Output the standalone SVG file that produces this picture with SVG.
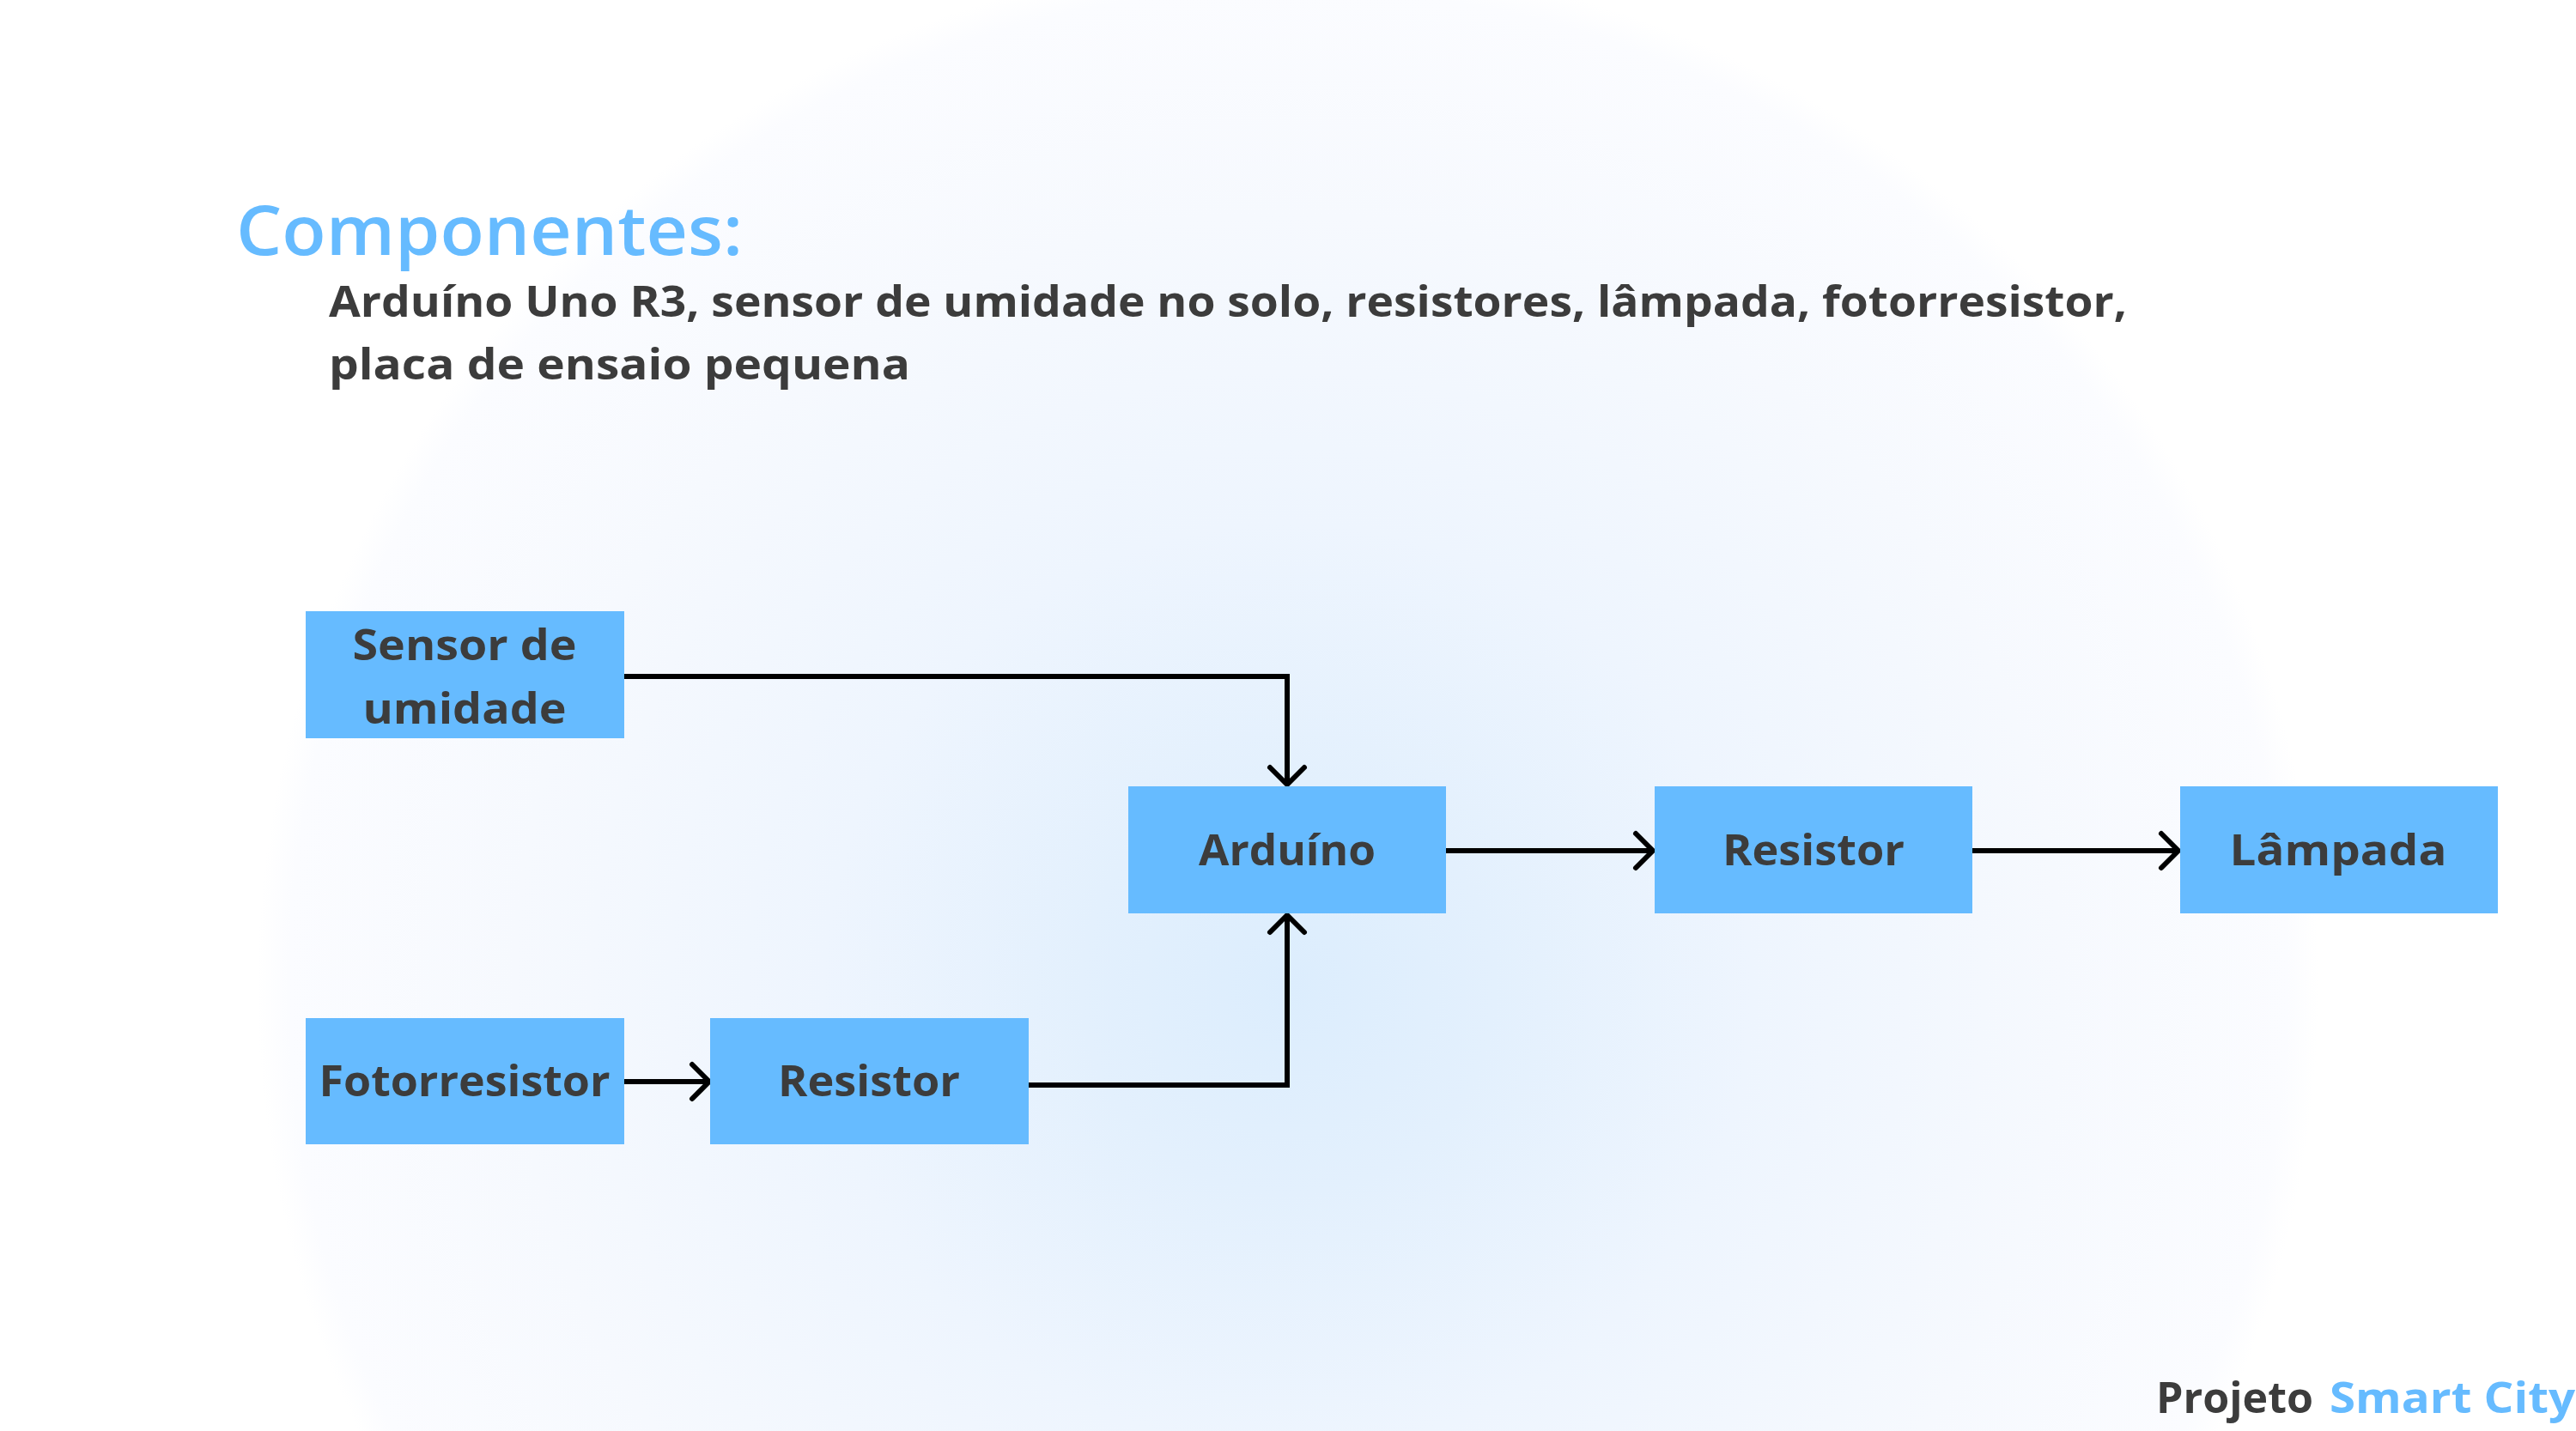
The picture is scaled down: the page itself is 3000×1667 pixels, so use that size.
<svg xmlns="http://www.w3.org/2000/svg" width="3000" height="1667" viewBox="0 0 3000 1667">
<defs>
<radialGradient id="bg" gradientUnits="userSpaceOnUse" cx="1500" cy="1150" r="1200">
<stop offset="0" stop-color="#DCEDFD"/>
<stop offset="0.2" stop-color="#E3F0FD"/>
<stop offset="0.45" stop-color="#EEF5FE"/>
<stop offset="0.75" stop-color="#F6F9FE"/>
<stop offset="0.97" stop-color="#FBFCFF"/>
<stop offset="1" stop-color="#FFFFFF"/>
</radialGradient>
<marker id="arr" markerUnits="userSpaceOnUse" orient="auto" viewBox="-30 -30 40 60" refX="0" refY="0" markerWidth="40" markerHeight="60">
<path d="M-20,-20 L0,0 L-20,20" fill="none" stroke="#000" stroke-width="6" stroke-linecap="round" stroke-linejoin="round"/>
</marker>
<style>
.box{fill:#66BBFF;}
.lbl{font-family:"Open Sans","Liberation Sans",sans-serif;font-weight:700;font-size:50px;fill:#3C3C3C;text-anchor:middle;}
.body{font-family:"Open Sans","Liberation Sans",sans-serif;font-weight:700;font-size:50px;fill:#3C3C3C;}
.title{font-family:"Open Sans","Liberation Sans",sans-serif;font-weight:600;font-size:80px;fill:#66BBFF;}
.conn{fill:none;stroke:#000;stroke-width:6;stroke-linejoin:miter;marker-end:url(#arr);}
</style>
</defs>
<rect x="0" y="0" width="3000" height="1667" fill="#FFFFFF"/>
<rect x="0" y="0" width="3000" height="1667" fill="url(#bg)"/>

<g id="header">
<text class="title" x="275" y="297" textLength="590" lengthAdjust="spacingAndGlyphs">Componentes:</text>
<text class="body" x="383" y="369" textLength="2094" lengthAdjust="spacingAndGlyphs">Arduíno Uno R3, sensor de umidade no solo, resistores, lâmpada, fotorresistor,</text>
<text class="body" x="383" y="442" textLength="677" lengthAdjust="spacingAndGlyphs">placa de ensaio pequena</text>
</g>

<g id="connectors">
<path class="conn" d="M727,788 H1499 V914"/>
<path class="conn" d="M1198,1264 H1499 V1066"/>
<path class="conn" d="M727,1260 H826"/>
<path class="conn" d="M1684,991 H1925"/>
<path class="conn" d="M2297,991 H2537"/>
</g>

<g id="node-sensor">
<rect class="box" x="356" y="712" width="371" height="148"/>
<text class="lbl" x="541" y="769" textLength="261" lengthAdjust="spacingAndGlyphs">Sensor de</text>
<text class="lbl" x="541" y="843" textLength="237" lengthAdjust="spacingAndGlyphs">umidade</text>
</g>

<g id="node-fotorresistor">
<rect class="box" x="356" y="1186" width="371" height="147"/>
<text class="lbl" x="541" y="1277" textLength="339" lengthAdjust="spacingAndGlyphs">Fotorresistor</text>
</g>

<g id="node-resistor1">
<rect class="box" x="827" y="1186" width="371" height="147"/>
<text class="lbl" x="1012" y="1277" textLength="212" lengthAdjust="spacingAndGlyphs">Resistor</text>
</g>

<g id="node-arduino">
<rect class="box" x="1314" y="916" width="370" height="148"/>
<text class="lbl" x="1499" y="1008" textLength="206" lengthAdjust="spacingAndGlyphs">Arduíno</text>
</g>

<g id="node-resistor2">
<rect class="box" x="1927" y="916" width="370" height="148"/>
<text class="lbl" x="2112" y="1008" textLength="212" lengthAdjust="spacingAndGlyphs">Resistor</text>
</g>

<g id="node-lampada">
<rect class="box" x="2539" y="916" width="370" height="148"/>
<text class="lbl" x="2723" y="1008" textLength="253" lengthAdjust="spacingAndGlyphs">Lâmpada</text>
</g>

<g id="footer">
<text class="body" x="2511" y="1646" font-size="48"><tspan fill="#3C3C3C" textLength="183" lengthAdjust="spacingAndGlyphs">Projeto</tspan><tspan x="2713" fill="#66BBFF" textLength="286" lengthAdjust="spacingAndGlyphs">Smart City</tspan></text>
</g>
</svg>
